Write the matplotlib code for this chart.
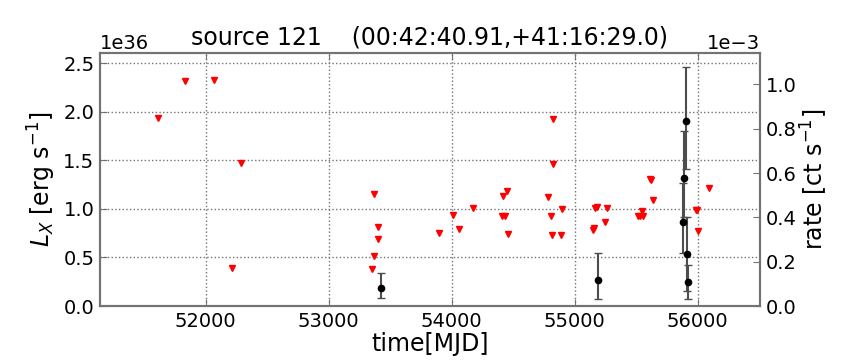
import matplotlib.pyplot as plt

# upper limits (L_X, 1e36 erg/s)
ul_mjd = [51610, 51829, 52070, 52290, 52214, 53368, 53398, 53401, 53368, 53350,
          53894, 54013, 54059, 54176, 54420, 54447, 54411, 54436, 54458, 54785,
          54826, 54824, 54805, 54815, 54886, 54894, 55146, 55154, 55167, 55181,
          55249, 55260, 55515, 55531, 55558, 55547, 55615, 55623, 55637, 55984,
          55992, 56005, 56089]
ul_lx = [1.937, 2.313, 2.327, 1.468, 0.387, 1.157, 0.818, 0.688, 0.520, 0.383,
         0.749, 0.937, 0.790, 1.009, 1.132, 1.187, 0.930, 0.925, 0.742, 1.126,
         1.923, 1.461, 0.927, 0.736, 0.736, 0.996, 0.785, 0.804, 1.013, 1.016,
         0.862, 1.006, 0.927, 0.927, 0.927, 0.975, 1.304, 1.294, 1.088, 0.993,
         0.993, 0.770, 1.219]

# detections
det_mjd = [53425, 55189, 55883, 55891, 55905, 55913, 55921]
det_lx = [0.188, 0.264, 0.866, 1.321, 1.906, 0.537, 0.243]
det_lo = [0.109, 0.192, 0.32, 0.40, 0.50, 0.38, 0.174]
det_hi = [0.148, 0.277, 0.40, 0.48, 0.56, 0.38, 0.175]

scale = 1e36

fig = plt.figure(figsize=(8.64, 3.6), dpi=100)
ax = fig.add_axes([0.1157, 0.15, 0.7639, 0.7028])

ax.plot(ul_mjd, [v * scale for v in ul_lx], 'v', color='red', markersize=4,
        markeredgecolor='red')
ax.errorbar(det_mjd, [v * scale for v in det_lx],
            yerr=[[v * scale for v in det_lo], [v * scale for v in det_hi]],
            fmt='o', color='black', markersize=4.5, ecolor='0.3',
            elinewidth=1.5, capsize=3)

ax.set_xlim(51140, 56506)
ax.set_ylim(0, 2.606e36)
ax.set_xticks([52000, 53000, 54000, 55000, 56000])
ax.set_yticks([0, 0.5e36, 1.0e36, 1.5e36, 2.0e36, 2.5e36])
ax.grid(True, linestyle=':', color='0.45', linewidth=1)
ax.set_axisbelow(True)

ax.set_xlabel('time[MJD]', fontsize=17, labelpad=1)
ax.set_ylabel(r'$L_X$ [erg s$^{-1}$]', fontsize=17)
ax.set_title('source 121    (00:42:40.91,+41:16:29.0)', fontsize=17, pad=6)
ax.tick_params(direction='in', labelsize=14, top=True, length=5,
               color='0.45', pad=4)
ax.yaxis.get_offset_text().set_fontsize(14)

ax2 = ax.twinx()
ax2.set_ylim(0, 1.142e-3)
ax2.set_yticks([0, 0.2e-3, 0.4e-3, 0.6e-3, 0.8e-3, 1.0e-3])
ax2.ticklabel_format(axis='y', style='sci', scilimits=(0, 0))
ax2.set_ylabel(r'rate [ct s$^{-1}$]', fontsize=17, labelpad=2)
ax2.tick_params(direction='in', labelsize=14, length=5, color='0.45', pad=4)
ax2.yaxis.get_offset_text().set_fontsize(14)

for a in (ax, ax2):
    for s in a.spines.values():
        s.set_color('0.45')
        s.set_linewidth(1.5)

plt.savefig('out.png', dpi=100)
